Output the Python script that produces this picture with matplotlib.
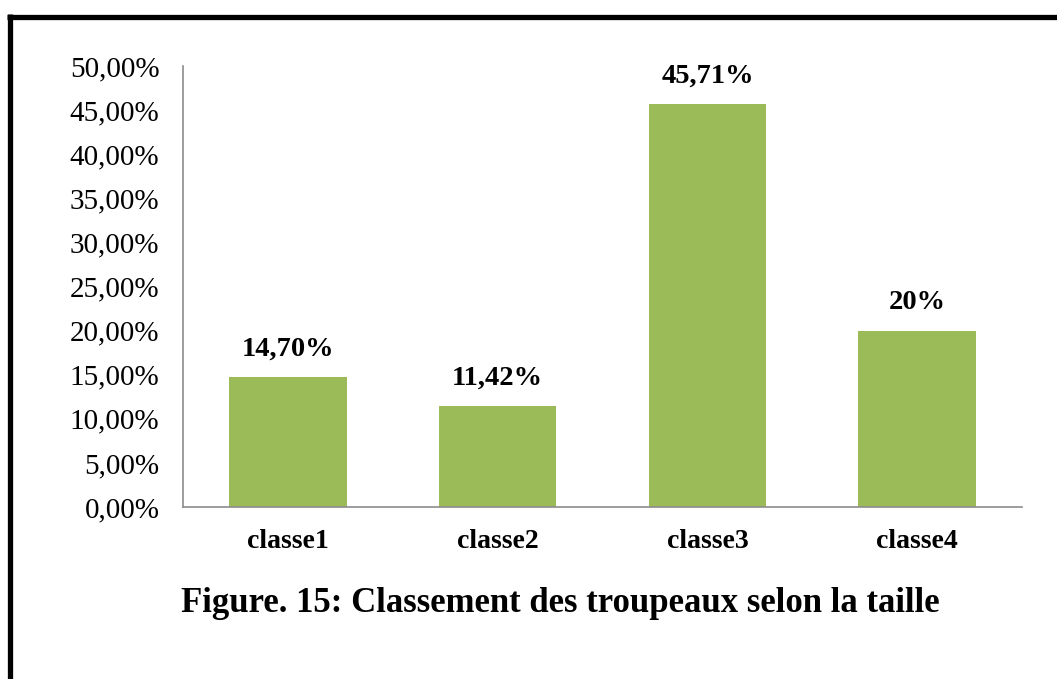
import numpy as np
import matplotlib.pyplot as plt
from matplotlib.lines import Line2D

# Données
categories = ['classe1', 'classe2', 'classe3', 'classe4']
valeurs = [14.70, 11.42, 45.71, 20.0]
etiquettes = ['14,70%', '11,42%', '45,71%', '20%']
yticks = np.arange(0, 51, 5)

plt.rcParams['font.family'] = ['Liberation Serif', 'DejaVu Serif']

fig = plt.figure(figsize=(10.57, 6.79), dpi=100)
ax = fig.add_axes([183 / 1057, 1 - 507 / 679, (1022 - 183) / 1057, (507 - 66) / 679])

x = np.arange(len(categories))
barres = ax.bar(x, valeurs, width=0.56, color='#9BBB59')

for b, lab in zip(barres, etiquettes):
    ax.annotate(lab, (b.get_x() + b.get_width() / 2, b.get_height()),
                xytext=(0, 11), textcoords='offset points',
                ha='center', va='bottom', fontsize=20.5, fontweight='bold')

ax.set_xlim(-0.5, len(categories) - 0.5)
ax.set_ylim(0, 50)
ax.set_yticks(yticks)
ax.set_yticklabels([f'{v:.2f}%'.replace('.', ',') for v in yticks], fontsize=21)
ax.set_xticks(x)
ax.set_xticklabels(categories, fontsize=20, fontweight='bold')
ax.tick_params(axis='both', length=0)
ax.tick_params(axis='x', pad=16)
ax.tick_params(axis='y', pad=17)

for s in ['top', 'right']:
    ax.spines[s].set_visible(False)
for s in ['left', 'bottom']:
    ax.spines[s].set_color('#8c8c8c')
    ax.spines[s].set_linewidth(1.2)

fig.text(560 / 1057, 1 - 603 / 679, 'Figure. 15: Classement des troupeaux selon la taille',
         ha='center', va='center', fontsize=25, fontweight='bold')

# Cadre noir (haut et gauche)
fig.add_artist(Line2D([7 / 1057, 1], [1 - 16.5 / 679] * 2, transform=fig.transFigure,
                      color='black', linewidth=3.8, solid_capstyle='butt'))
fig.add_artist(Line2D([9.5 / 1057] * 2, [0, 1 - 14 / 679], transform=fig.transFigure,
                      color='black', linewidth=3.8, solid_capstyle='butt'))

fig.savefig('out.png', dpi=100)
